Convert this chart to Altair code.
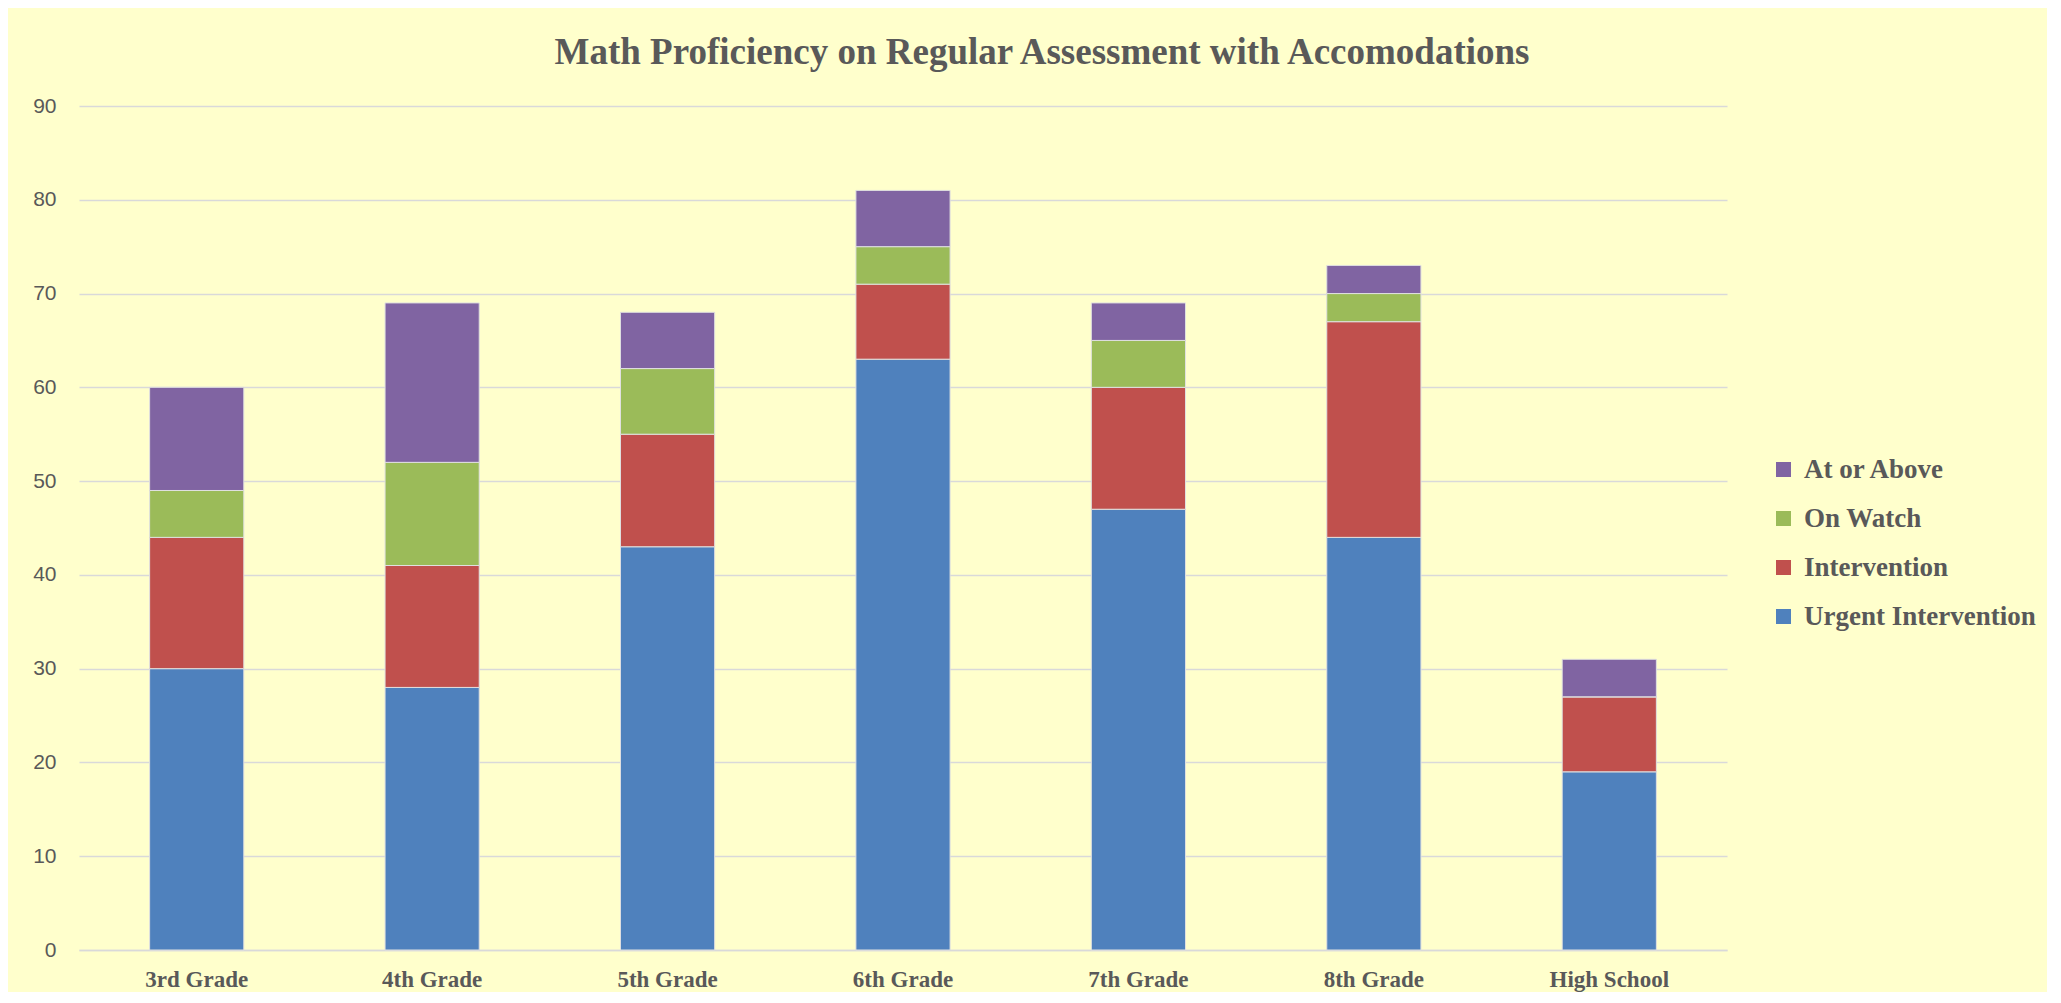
import altair as alt
import pandas as pd

grades = ["3rd Grade", "4th Grade", "5th Grade", "6th Grade", "7th Grade", "8th Grade", "High School"]
urgent = [30, 28, 43, 63, 47, 44, 19]
intervention = [14, 13, 12, 8, 13, 23, 8]
on_watch = [5, 11, 7, 4, 5, 3, 0]
at_or_above = [11, 17, 6, 6, 4, 3, 4]

series_names = ["Urgent Intervention", "Intervention", "On Watch", "At or Above"]
series_values = [urgent, intervention, on_watch, at_or_above]
legend_order = ["At or Above", "On Watch", "Intervention", "Urgent Intervention"]
legend_colors = ["#8064A2", "#9BBB59", "#C0504D", "#4F81BD"]

rows = []
for rank, (name, vals) in enumerate(zip(series_names, series_values)):
    for g, v in zip(grades, vals):
        rows.append({"Grade": g, "Level": name, "Value": v, "rank": rank})
df = pd.DataFrame(rows)

chart = alt.Chart(df).mark_bar(stroke="#E0E0E0", strokeWidth=1).encode(
    x=alt.X("Grade:N", sort=grades, title=None,
            scale=alt.Scale(paddingInner=0.6, paddingOuter=0.3),
            axis=alt.Axis(labelAngle=0, labelFont="Liberation Serif", labelFontWeight="bold",
                          labelFontSize=23, labelColor="#595959", labelPadding=18,
                          ticks=False, tickSize=0, domain=True, domainColor="#D9D9D9",
                          domainWidth=1.5, grid=False)),
    y=alt.Y("Value:Q", stack="zero", title=None,
            scale=alt.Scale(domain=[0, 90], nice=False),
            axis=alt.Axis(values=list(range(0, 91, 10)), labelFont="Liberation Sans",
                          labelFontSize=21, labelColor="#595959", labelPadding=23,
                          ticks=False, tickSize=0, domain=False, gridColor="#D9D9D9",
                          gridWidth=1.5)),
    color=alt.Color("Level:N", scale=alt.Scale(domain=legend_order, range=legend_colors),
                    legend=alt.Legend(title=None, orient="none", legendX=1691, legendY=350,
                                      symbolType="square", symbolSize=225, symbolStrokeWidth=0,
                                      labelFont="Liberation Serif", labelFontWeight="bold",
                                      labelFontSize=27, labelColor="#595959", labelOffset=7,
                                      rowPadding=21, padding=0, labelLimit=400)),
    order=alt.Order("rank:Q", sort="ascending"),
).properties(
    width=1648,
    height=844,
    background="#FFFFCC",
    padding={"left": 71, "top": 98, "right": 320, "bottom": 42},
    autosize=alt.AutoSizeParams(type="none"),
    title=alt.TitleParams("Math Proficiency on Regular Assessment with Accomodations",
                          font="Liberation Serif", fontWeight="bold", fontSize=37,
                          color="#595959", anchor="middle", baseline="alphabetic",
                          offset=41, dx=139, dy=47),
).configure_view(stroke=None)

chart.save("out.html", embed_options={"renderer": "svg", "actions": False})
